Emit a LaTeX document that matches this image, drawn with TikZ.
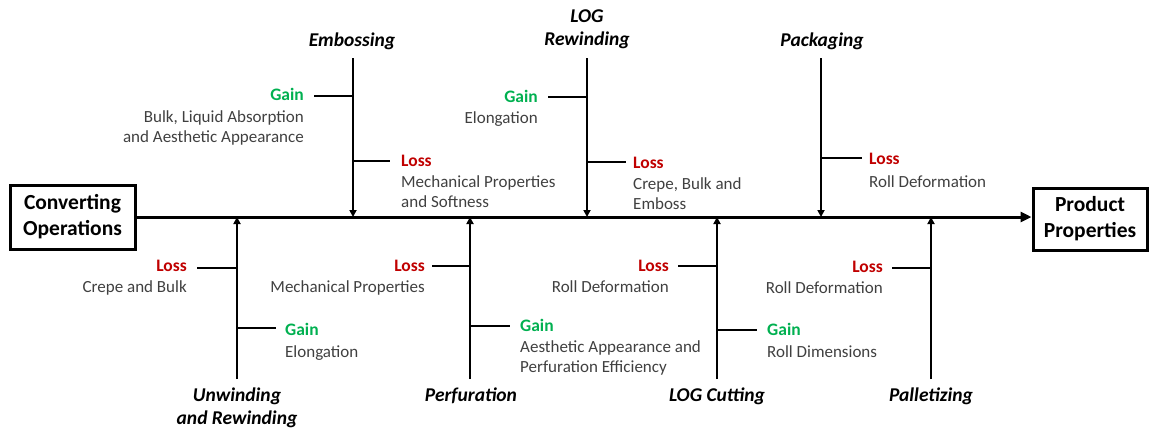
\documentclass[tikz,border=0pt]{standalone}
\usepackage{fontspec}
\setmainfont{Carlito}
\usetikzlibrary{arrows.meta}
\definecolor{lossred}{RGB}{192,0,0}
\definecolor{gaingreen}{RGB}{0,176,80}
\definecolor{desc}{RGB}{64,64,64}
\tikzset{
  box/.style={draw, line width=3pt, inner sep=0pt, minimum width=125pt, minimum height=64pt, align=center, font=\fontsize{21.5}{26}\selectfont\bfseries},
  mainline/.style={line width=3pt, -{Triangle[length=11pt,width=10pt]}},
  branch/.style={line width=2.5pt, -{Triangle[length=7pt,width=7pt]}},
  tick/.style={line width=1.6pt},
  stage/.style={font=\fontsize{19.5}{23.5}\selectfont\bfseries\itshape, inner sep=0pt, align=center},
  gainlbl/.style={text=gaingreen, font=\fontsize{17.5}{20}\selectfont\bfseries, inner sep=0pt},
  losslbl/.style={text=lossred, font=\fontsize{17.5}{20}\selectfont\bfseries, inner sep=0pt},
  desctext/.style={text=desc, font=\fontsize{17}{20}\selectfont, inner sep=0pt},
}
\begin{document}
\begin{tikzpicture}[x=1pt,y=-1pt]
\useasboundingbox (0,0) rectangle (1151,429);
% boxes
\node[box] (conv) at (72.5,217) {Converting\\Operations};
\node[box, minimum width=114pt, minimum height=62pt] (prod) at (1090,219) {Product\\Properties};
\draw[mainline] (conv.east |- 0,217) coordinate (m0) -- (prod.west |- 0,217) coordinate (m1);

% ---------- top branches ----------
% Embossing
\node[stage] (emb) at (352,41) {Embossing};
\coordinate (embT) at (353,58);
\coordinate (embB) at (353,217);
\draw[branch] (embT) -- (embB);
\coordinate (embG) at (353,96); \coordinate (embGe) at (314,96);
\draw[tick] (embG) -- (embGe);
\node[gainlbl, anchor=mid east] (embGl) at (304,98.5) {Gain};
\node[desctext, anchor=north east, align=right] (embGd) at (304,110.5) {Bulk, Liquid Absorption\\and Aesthetic Appearance};
\coordinate (embL) at (353,161); \coordinate (embLe) at (390,161);
\draw[tick] (embL) -- (embLe);
\node[losslbl, anchor=mid west] (embLl) at (401,164.5) {Loss};
\node[desctext, anchor=north west, align=left] (embLd) at (401,175.5) {Mechanical Properties\\and Softness};

% LOG Rewinding
\node[stage] (logr) at (587,29) {LOG\\Rewinding};
\coordinate (logrT) at (587,58);
\coordinate (logrB) at (587,217);
\draw[branch] (logrT) -- (logrB);
\coordinate (logrG) at (587,97); \coordinate (logrGe) at (548,97);
\draw[tick] (logrG) -- (logrGe);
\node[gainlbl, anchor=mid east] (logrGl) at (538,100) {Gain};
\node[desctext, anchor=north east, align=right] (logrGd) at (538,111.5) {Elongation};
\coordinate (logrL) at (587,162); \coordinate (logrLe) at (626,162);
\draw[tick] (logrL) -- (logrLe);
\node[losslbl, anchor=mid west] (logrLl) at (633,166) {Loss};
\node[desctext, anchor=north west, align=left] (logrLd) at (633,177.5) {Crepe, Bulk and\\Emboss};

% Packaging
\node[stage] (pack) at (822,41) {Packaging};
\coordinate (packT) at (821,58);
\coordinate (packB) at (821,217);
\draw[branch] (packT) -- (packB);
\coordinate (packL) at (821,158); \coordinate (packLe) at (862,158);
\draw[tick] (packL) -- (packLe);
\node[losslbl, anchor=mid west] (packLl) at (869,162.5) {Loss};
\node[desctext, anchor=north west, align=left] (packLd) at (869,175) {Roll Deformation};

% ---------- bottom branches ----------
% Unwinding
\node[stage] (unw) at (237,408) {Unwinding\\and Rewinding};
\coordinate (unwB) at (237,379);
\coordinate (unwT) at (237,217);
\draw[branch] (unwB) -- (unwT);
\coordinate (unwL) at (237,268); \coordinate (unwLe) at (197,268);
\draw[tick] (unwL) -- (unwLe);
\node[losslbl, anchor=mid east] (unwLl) at (187,269.5) {Loss};
\node[desctext, anchor=north east, align=right] (unwLd) at (187,280.5) {Crepe and Bulk};
\coordinate (unwG) at (237,328); \coordinate (unwGe) at (276,328);
\draw[tick] (unwG) -- (unwGe);
\node[gainlbl, anchor=mid west] (unwGl) at (285,333) {Gain};
\node[desctext, anchor=north west, align=left] (unwGd) at (285,345.5) {Elongation};

% Perfuration
\node[stage] (perf) at (471,396) {Perfuration};
\coordinate (perfB) at (470,379);
\coordinate (perfT) at (470,217);
\draw[branch] (perfB) -- (perfT);
\coordinate (perfL) at (470,266); \coordinate (perfLe) at (432,266);
\draw[tick] (perfL) -- (perfLe);
\node[losslbl, anchor=mid east] (perfLl) at (425,269) {Loss};
\node[desctext, anchor=north east, align=right] (perfLd) at (425,280.5) {Mechanical Properties};
\coordinate (perfG) at (470,326); \coordinate (perfGe) at (510,326);
\draw[tick] (perfG) -- (perfGe);
\node[gainlbl, anchor=mid west] (perfGl) at (520,329.5) {Gain};
\node[desctext, anchor=north west, align=left] (perfGd) at (520,340.5) {Aesthetic Appearance and\\Perfuration Efficiency};

% LOG Cutting
\node[stage] (logc) at (717,396) {LOG Cutting};
\coordinate (logcB) at (717,379);
\coordinate (logcT) at (717,217);
\draw[branch] (logcB) -- (logcT);
\coordinate (logcL) at (717,266); \coordinate (logcLe) at (678,266);
\draw[tick] (logcL) -- (logcLe);
\node[losslbl, anchor=mid east] (logcLl) at (669,269) {Loss};
\node[desctext, anchor=north east, align=right] (logcLd) at (669,280.5) {Roll Deformation};
\coordinate (logcG) at (717,330); \coordinate (logcGe) at (757,330);
\draw[tick] (logcG) -- (logcGe);
\node[gainlbl, anchor=mid west] (logcGl) at (767,333) {Gain};
\node[desctext, anchor=north west, align=left] (logcGd) at (767,345.5) {Roll Dimensions};

% Palletizing
\node[stage] (pall) at (931,396) {Palletizing};
\coordinate (pallB) at (931,379);
\coordinate (pallT) at (931,217);
\draw[branch] (pallB) -- (pallT);
\coordinate (pallL) at (931,268); \coordinate (pallLe) at (892,268);
\draw[tick] (pallL) -- (pallLe);
\node[losslbl, anchor=mid east] (pallLl) at (883,270) {Loss};
\node[desctext, anchor=north east, align=right] (pallLd) at (883,281.5) {Roll Deformation};
\end{tikzpicture}
\end{document}
